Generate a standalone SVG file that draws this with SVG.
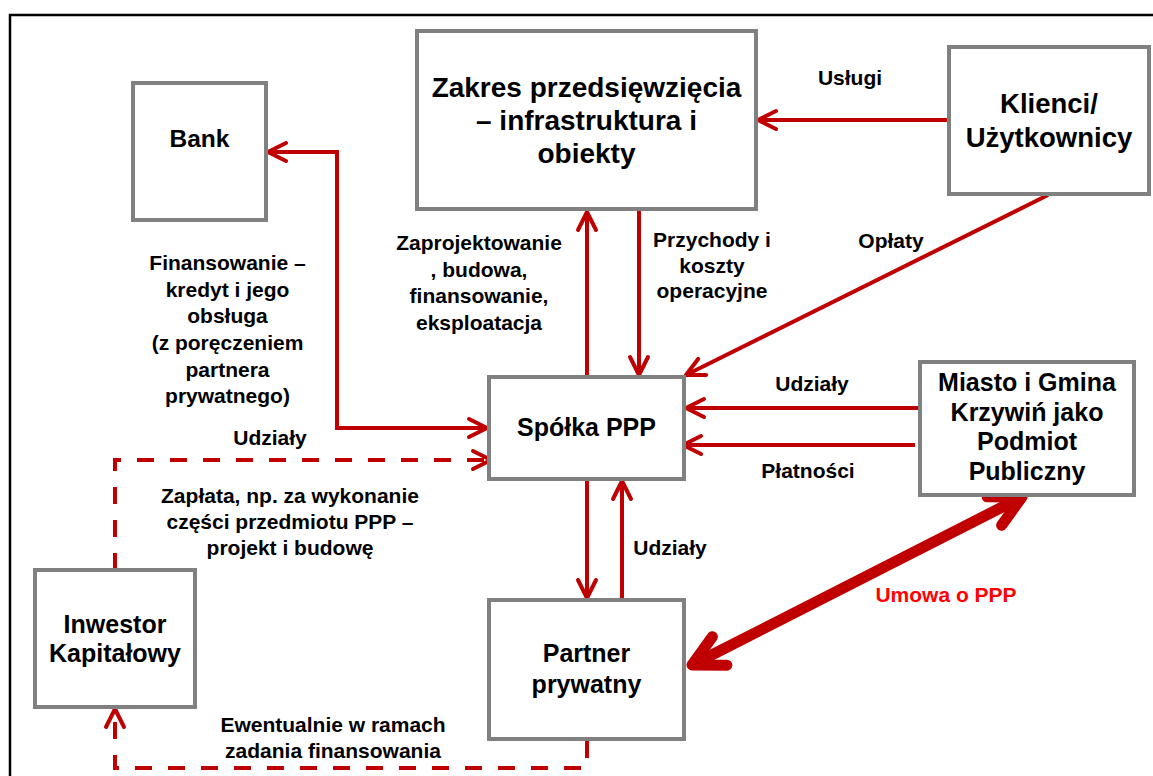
<svg xmlns="http://www.w3.org/2000/svg" width="1153" height="776" viewBox="0 0 1153 776">
<style>
.box{fill:#fff;stroke:#808080;stroke-width:4}
.t{font-family:"Liberation Sans",Arial,sans-serif;font-weight:bold;fill:#000;text-anchor:middle}
.n{font-size:25px}
.l{font-size:21px}
.c{fill:none;stroke:#C00000;stroke-width:4}
.d{stroke-dasharray:17 16}
</style>
<defs>
<marker id="ah" markerUnits="userSpaceOnUse" markerWidth="40" markerHeight="40" viewBox="-30 -20 40 40" refX="0" refY="0" orient="auto-start-reverse" overflow="visible">
<path d="M-18,-9 L0,0 L-18,9" fill="none" stroke="#C00000" stroke-width="4" stroke-linecap="round" stroke-linejoin="round"/>
</marker>
<marker id="ahb" markerUnits="userSpaceOnUse" markerWidth="80" markerHeight="80" viewBox="-40 -40 80 80" refX="0" refY="0" orient="auto-start-reverse" overflow="visible">
<path d="M-31,-16 L0,0 L-31,16" fill="none" stroke="#C00000" stroke-width="11" stroke-linecap="round" stroke-linejoin="round"/>
</marker>
</defs>
<rect x="10" y="15" width="1150" height="800" fill="#fff" stroke="#000" stroke-width="2.5"/>
<g id="connectors">
<path class="c" d="M949,120 H758" marker-end="url(#ah)"/>
<path class="c" d="M268,152 H337 V428 H487" marker-start="url(#ah)" marker-end="url(#ah)"/>
<path class="c" d="M587,377 V212" marker-end="url(#ah)"/>
<path class="c" d="M639,210 V375" marker-end="url(#ah)"/>
<path class="c" d="M1048,195 L686,375" marker-end="url(#ah)"/>
<path class="c" d="M920,408 H686" marker-end="url(#ah)"/>
<path class="c" d="M915,445 H683" marker-end="url(#ah)"/>
<path class="c" d="M587,479 V598" marker-end="url(#ah)"/>
<path class="c" d="M622,600 V481" marker-end="url(#ah)"/>
<path class="c" style="stroke-width:11" d="M692,665 L1022,497" marker-start="url(#ahb)" marker-end="url(#ahb)"/>
<path class="c d" d="M115,570 V460 H491" marker-end="url(#ah)"/>
<path class="c d" d="M587,741 V768 H115 V709" marker-end="url(#ah)"/>
</g>
<g id="labels" class="t l">
<text x="850" y="85">Usługi</text>
<text x="227.5" y="270">Finansowanie –<tspan x="227.5" y="297">kredyt i jego</tspan><tspan x="227.5" y="323">obsługa</tspan><tspan x="227.5" y="350">(z poręczeniem</tspan><tspan x="227.5" y="377">partnera</tspan><tspan x="227.5" y="403">prywatnego)</tspan></text>
<text x="270" y="445">Udziały</text>
<text x="479" y="250">Zaprojektowanie<tspan x="479" y="277">, budowa,</tspan><tspan x="479" y="303">finansowanie,</tspan><tspan x="479" y="330">eksploatacja</tspan></text>
<text x="712" y="247">Przychody i<tspan x="712" y="273">koszty</tspan><tspan x="712" y="298">operacyjne</tspan></text>
<text x="891" y="248">Opłaty</text>
<text x="812" y="391">Udziały</text>
<text x="808" y="478">Płatności</text>
<text x="670" y="555">Udziały</text>
<text x="946" y="602" style="fill:#FF0000">Umowa o PPP</text>
<text x="290" y="503">Zapłata, np. za wykonanie<tspan x="290" y="529">części przedmiotu PPP –</tspan><tspan x="290" y="555">projekt i budowę</tspan></text>
<text x="333" y="732">Ewentualnie w ramach<tspan x="333" y="758">zadania finansowania</tspan></text>
</g>
<g id="bank"><rect class="box" x="133" y="83" width="133" height="137"/><text class="t" style="font-size:24.5px" x="199.5" y="147">Bank</text></g>
<g id="zakres"><rect class="box" x="417" y="31" width="339" height="178"/><text class="t" style="font-size:28px" x="586.5" y="97">Zakres przedsięwzięcia<tspan x="586.5" y="130">– infrastruktura i</tspan><tspan x="586.5" y="163">obiekty</tspan></text></g>
<g id="klienci"><rect class="box" x="949" y="47" width="200" height="147"/><text class="t" style="font-size:27.5px" x="1049" y="113">Klienci/<tspan x="1049" y="147">Użytkownicy</tspan></text></g>
<g id="spolka"><rect class="box" x="489" y="377" width="195" height="102"/><text class="t n" x="586.5" y="436">Spółka PPP</text></g>
<g id="miasto"><rect class="box" x="920" y="362" width="214" height="133"/><text class="t n" x="1027" y="391">Miasto i Gmina<tspan x="1027" y="420.5">Krzywiń jako</tspan><tspan x="1027" y="450">Podmiot</tspan><tspan x="1027" y="479.5">Publiczny</tspan></text></g>
<g id="inwestor"><rect class="box" x="35" y="570" width="160" height="137"/><text class="t n" x="115" y="633">Inwestor<tspan x="115" y="662">Kapitałowy</tspan></text></g>
<g id="partner"><rect class="box" x="489" y="600" width="195" height="139"/><text class="t n" x="586.5" y="662">Partner<tspan x="586.5" y="693">prywatny</tspan></text></g>
</svg>
